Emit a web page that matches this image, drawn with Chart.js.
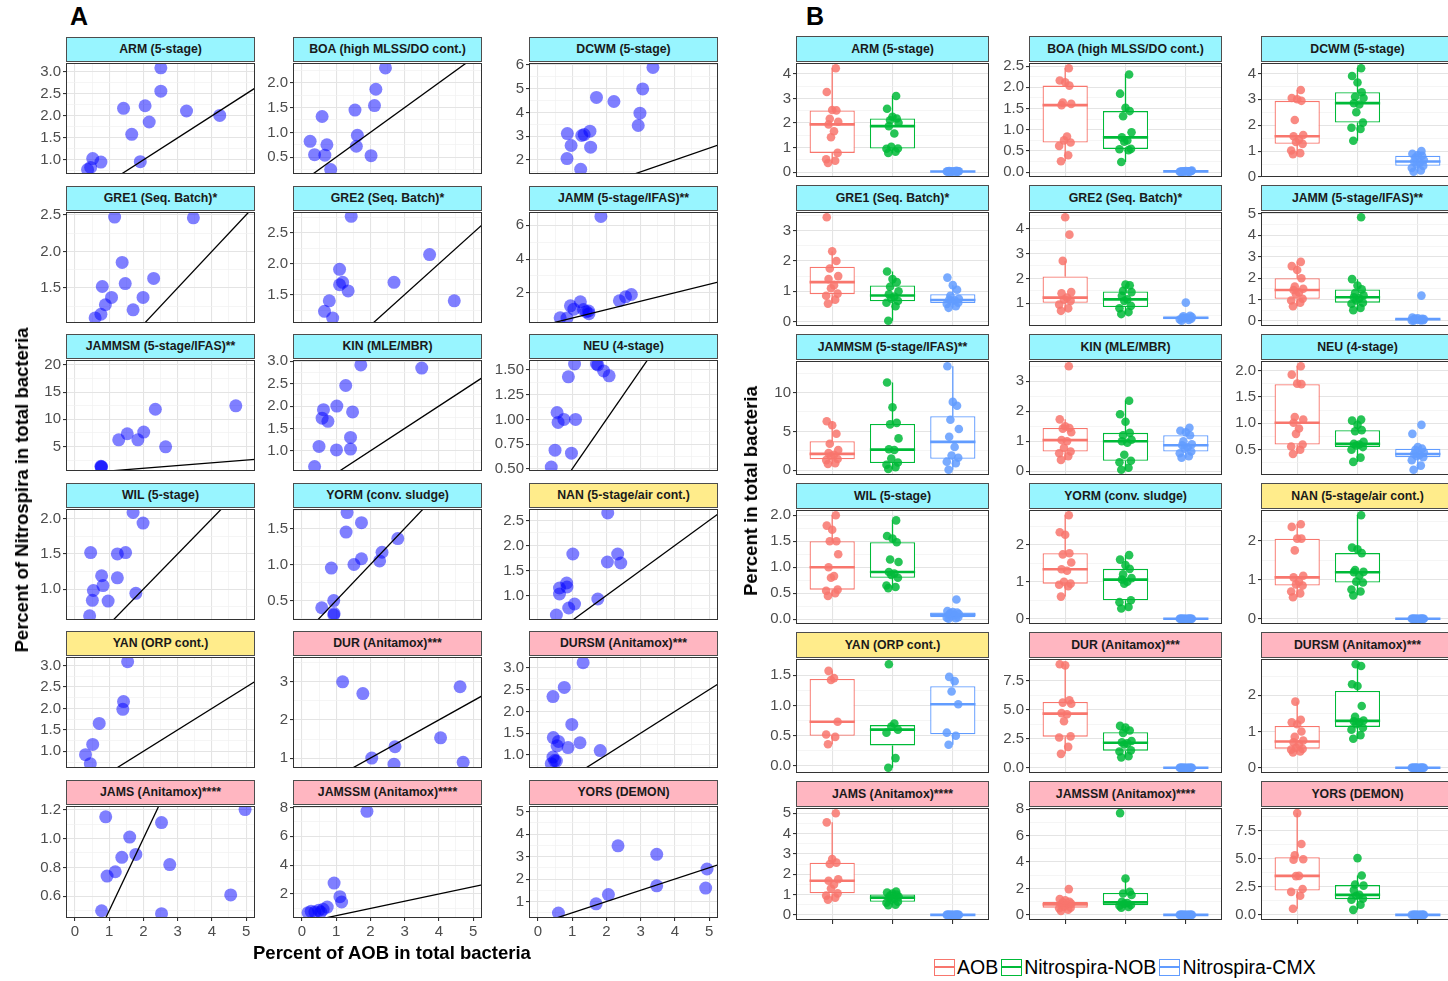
<!DOCTYPE html>
<html>
<head>
<meta charset="utf-8">
<script src="https://cdn.jsdelivr.net/npm/chart.js@4.4.0/dist/chart.umd.min.js"></script>
<style>
body { margin: 0; background: #fff; width: 1448px; height: 981px; overflow: hidden; position: relative;
       font-family: "Liberation Sans", Arial, Helvetica, sans-serif; }
canvas { position: absolute; }
.strip { position: absolute; box-sizing: border-box; border: 1px solid #4d4d4d; text-align: center;
         font-weight: bold; font-size: 12.3px; color: #1a1a1a; white-space: nowrap; overflow: hidden; }
.tag { position: absolute; font-weight: bold; font-size: 25px; color: #000; }
.title { position: absolute; font-weight: bold; font-size: 18.5px; color: #000; white-space: nowrap; }
.legend { position: absolute; left: 931px; top: 956px; display: flex; align-items: center; font-size: 19.5px; color: #000; }
.key { width: 21px; height: 17px; box-sizing: border-box; border: 1.5px solid; position: relative; margin: 0 2px 0 3px; }
.key i { position: absolute; left: 0; right: 0; top: 6px; border-top: 2px solid; }
</style>
</head>
<body>
<script>
// facet labels and wastewater process type (strip colour)
const sites = ['ARM (5-stage)', 'BOA (high MLSS/DO cont.)', 'DCWM (5-stage)',
  'GRE1 (Seq. Batch)*', 'GRE2 (Seq. Batch)*', 'JAMM (5-stage/IFAS)**',
  'JAMMSM (5-stage/IFAS)**', 'KIN (MLE/MBR)', 'NEU (4-stage)',
  'WIL (5-stage)', 'YORM (conv. sludge)', 'NAN (5-stage/air cont.)',
  'YAN (ORP cont.)', 'DUR (Anitamox)***', 'DURSM (Anitamox)***',
  'JAMS (Anitamox)****', 'JAMSSM (Anitamox)****', 'YORS (DEMON)'];
const processType = ['conv','conv','conv','conv','conv','conv','conv','conv','conv',
  'conv','conv','ctrl','ctrl','anammox','anammox','anammox','anammox','anammox'];

// panel A: percent AOB (x) vs percent Nitrospira (y)
const aobScatter = [
  [0.37,0.46,0.52,0.76,1.42,1.66,1.91,2.05,2.17,2.51,2.51,3.26,4.23],
  [0.24,0.37,0.59,0.73,0.67,0.84,1.55,1.62,1.59,2.02,2.12,2.16,2.44],
  [0.85,0.86,0.97,1.25,1.28,1.35,1.52,1.54,1.71,2.22,2.93,2.98,3.06,3.36],
  [0.59,0.76,0.89,0.80,1.07,1.16,1.38,1.47,1.70,1.99,2.30,3.46],
  [0.66,0.80,0.90,1.10,1.10,1.19,1.35,1.44,2.69,3.73,4.45],
  [0.65,0.85,0.95,1.05,1.24,1.33,1.41,1.48,1.49,1.84,2.38,2.56,2.73],
  [0.76,0.77,0.78,1.28,1.53,1.84,2.01,2.35,2.65,4.70],
  [0.37,0.50,0.63,0.59,0.76,1.01,1.02,1.28,1.42,1.42,1.48,1.72,3.50],
  [0.39,0.50,0.56,0.59,0.76,0.89,0.98,1.07,1.10,1.71,1.75,1.92,2.08],
  [0.43,0.51,0.54,0.46,0.78,0.82,0.97,1.24,1.24,1.48,1.70,1.78,1.99],
  [0.58,0.93,0.94,0.86,0.93,1.29,1.32,1.52,1.74,1.74,2.27,2.34,2.80],
  [0.54,0.63,0.63,0.84,0.85,0.90,1.02,1.07,1.75,2.03,2.04,2.33,2.42],
  [0.31,0.45,0.52,0.71,1.40,1.42,1.54],
  [1.19,1.78,2.04,2.69,2.72,4.05,4.62,4.71],
  [0.39,0.44,0.49,0.44,0.45,0.56,0.60,0.54,0.77,0.88,0.99,1.23,1.32,1.82],
  [0.78,0.90,0.94,1.18,1.37,1.60,1.78,2.53,2.53,2.77,4.55,4.97],
  [0.18,0.27,0.38,0.49,0.55,0.62,0.74,0.94,1.11,1.16,1.90],
  [0.60,1.70,2.06,2.34,3.47,3.47,4.94,4.90]
];
const nitScatter = [
  [0.78,0.83,1.03,0.95,2.17,1.58,0.96,2.23,1.86,3.09,2.56,2.11,2.01],
  [0.82,0.55,1.32,0.75,0.54,0.25,1.45,0.94,0.72,0.53,1.54,1.87,2.30],
  [2.06,3.11,2.61,1.61,3.03,3.07,3.21,2.54,4.63,4.46,3.45,3.97,4.99,5.89],
  [1.09,1.14,1.27,1.52,1.37,2.47,1.85,1.56,1.20,1.37,1.63,2.46],
  [1.23,1.40,1.12,1.91,1.66,1.70,1.56,2.77,1.70,2.15,1.40],
  [0.52,0.50,1.23,1.03,1.47,1.01,0.88,0.92,0.76,6.53,1.53,1.76,1.90],
  [1.36,1.23,1.30,6.23,7.35,6.23,7.65,11.85,4.94,12.47],
  [0.65,1.10,1.92,1.73,1.66,1.02,2.00,2.46,1.30,1.04,1.87,2.92,2.85],
  [0.52,0.69,1.07,0.97,1.00,1.43,0.66,1.56,1.00,1.56,1.55,1.49,1.44],
  [0.62,0.84,0.98,1.52,1.19,1.05,0.83,1.16,1.50,1.52,2.09,0.94,1.94],
  [0.40,0.30,0.32,0.95,0.50,1.45,1.72,1.00,1.08,1.58,1.05,1.17,1.36],
  [0.61,1.03,1.15,1.25,1.17,0.75,1.83,0.83,0.93,1.67,2.65,1.83,1.65],
  [0.92,0.71,1.16,1.65,1.98,2.16,3.09],
  [3.00,2.69,1.00,0.84,1.30,1.53,2.87,0.89],
  [0.80,0.95,0.87,2.34,1.40,1.21,1.31,0.86,2.55,1.17,1.70,1.28,3.12,1.10],
  [0.50,1.15,0.74,0.77,0.87,1.01,0.89,1.11,0.48,0.82,0.61,1.20],
  [0.71,0.80,0.75,0.87,0.75,0.94,1.10,2.76,1.82,1.45,7.73],
  [0.49,0.90,1.31,3.48,3.10,1.70,2.45,1.60]
];
const xRangeA = [-0.26, 5.26];
const yRangeA = [[0.68,3.2],[0.16,2.40],[1.41,6.08],[1.02,2.54],[1.04,2.84],[0.21,6.79],
  [0.5,20.9],[0.55,3.03],[0.48,1.60],[0.56,2.14],[0.23,1.77],[0.51,2.73],
  [0.61,3.2],[0.74,3.65],[0.70,3.25],[0.45,1.225],[0.34,8.1],[0.27,5.25]];
const yBreakA = [0.5,0.5,1,0.5,0.5,2,5,0.5,0.25,0.5,0.5,0.5,0.5,1,0.5,0.2,2,1];
const refSlope = 0.5; // reference line: Nitrospira = AOB / 2

// panel B: percent in total bacteria by group
const groups = ['AOB', 'Nitrospira-NOB', 'Nitrospira-CMX'];
const aobPct = [
  [0.37,0.46,0.52,0.78,1.42,1.66,1.94,2.05,2.17,2.51,2.53,3.26,4.23],
  [0.26,0.40,0.62,0.70,0.75,0.84,1.58,1.61,1.64,2.04,2.12,2.16,2.45],
  [0.88,0.92,1.02,1.28,1.35,1.45,1.57,1.62,2.2,2.94,3.0,3.05,3.36],
  [0.59,0.72,0.85,0.92,1.1,1.2,1.4,1.5,1.75,2.0,2.32,3.45],
  [0.7,0.8,0.95,1.1,1.15,1.23,1.4,1.45,2.7,3.75,4.45],
  [0.68,0.85,0.95,1.03,1.24,1.33,1.44,1.5,1.6,1.99,2.38,2.56,2.76],
  [0.8,0.9,1.3,1.45,1.8,2.0,2.2,2.6,3.4,4.7,5.8,6.3],
  [0.38,0.5,0.6,0.66,0.78,1.0,1.04,1.3,1.42,1.44,1.5,1.73,3.5],
  [0.42,0.5,0.56,0.6,0.8,0.9,1.01,1.07,1.12,1.74,1.75,1.92,2.08],
  [0.45,0.5,0.55,0.57,0.8,0.83,1.0,1.25,1.5,1.5,1.72,1.8,2.0],
  [0.6,0.88,0.92,0.95,1.0,1.3,1.34,1.52,1.74,1.77,2.27,2.34,2.8],
  [0.55,0.65,0.7,0.85,0.88,0.95,1.06,1.1,1.75,2.05,2.05,2.35,2.42],
  [0.36,0.48,0.52,0.73,1.42,1.45,1.57],
  [1.2,1.8,2.6,2.7,4.0,4.6,4.7,5.5,5.6,5.8,8.8,8.9],
  [0.42,0.45,0.5,0.52,0.55,0.65,0.7,0.75,0.85,1.0,1.2,1.25,1.32,1.82],
  [0.75,0.85,0.95,1.06,1.3,1.5,1.68,1.75,2.5,2.57,2.75,4.55,5.0],
  [0.3,0.4,0.5,0.55,0.6,0.75,0.8,0.85,0.95,1.0,1.1,1.2,1.95],
  [0.55,1.7,2.05,2.3,3.45,3.47,4.9,4.95,5.3,6.3,9.05]
];
const nobPct = [
  [0.78,0.83,0.95,0.96,1.03,1.57,1.87,2.01,2.11,2.18,2.25,2.58,3.10],
  [0.24,0.52,0.54,0.55,0.72,0.75,0.82,0.94,1.32,1.44,1.52,1.85,2.30],
  [1.4,1.85,1.9,2.1,2.5,2.8,2.85,3.05,3.1,3.27,3.65,3.9,4.2],
  [0.02,0.5,0.62,0.68,0.75,0.82,0.9,1.0,1.15,1.3,1.4,1.65],
  [0.57,0.65,0.8,0.9,1.1,1.16,1.3,1.45,1.5,1.72,1.75],
  [0.5,0.6,0.8,0.85,0.95,1.05,1.1,1.2,1.3,1.47,1.65,1.95,4.85],
  [0.15,0.4,0.7,1.0,1.5,2.6,2.7,4.1,5.9,6.1,8.1,11.3],
  [0.05,0.12,0.3,0.35,0.55,0.95,1.0,1.05,1.2,1.28,1.65,1.9,2.35],
  [0.27,0.35,0.5,0.55,0.58,0.6,0.61,0.65,0.85,0.87,0.97,1.05,1.07],
  [0.6,0.62,0.65,0.8,0.85,0.88,0.91,1.1,1.15,1.48,1.55,1.6,1.9],
  [0.28,0.32,0.45,0.5,0.95,1.0,1.06,1.1,1.2,1.35,1.45,1.6,1.72],
  [0.6,0.7,0.75,0.93,0.95,1.1,1.19,1.2,1.25,1.68,1.78,1.82,2.65],
  [-0.03,0.13,0.55,0.6,0.65,0.7,1.68],
  [0.9,1.0,1.4,1.5,2.0,2.1,2.2,2.3,3.0,3.2,3.45,3.6],
  [0.8,0.9,1.05,1.1,1.2,1.25,1.28,1.3,1.4,1.7,2.25,2.3,2.8,2.85],
  [0.48,0.5,0.6,0.65,0.75,0.8,0.85,0.9,0.95,1.0,1.05,1.1,1.15],
  [0.55,0.6,0.7,0.75,0.85,0.9,1.0,1.5,1.62,1.75,2.75,7.7],
  [0.45,0.9,1.35,1.45,1.7,1.78,2.2,2.6,2.7,3.5,5.05]
];
const cmxPct = [
  [0.01,0.02,0.02,0.03,0.01,0.02,0.04,0.03,0.02,0.01,0.03,0.02,0.05],
  [0.01,0.02,0.01,0.03,0.02,0.01,0.02,0.04,0.01,0.02,0.03,0.01,0.02],
  [0.2,0.25,0.35,0.43,0.48,0.55,0.6,0.65,0.75,0.82,0.85,0.9,1.0],
  [0.45,0.5,0.58,0.62,0.68,0.7,0.72,0.75,0.85,1.05,1.2,1.45],
  [0.3,0.33,0.35,0.38,0.4,0.42,0.42,0.45,0.48,0.5,1.03],
  [0.0,0.02,0.02,0.03,0.05,0.05,0.08,0.08,0.1,0.1,0.12,0.15,1.18],
  [0.05,0.9,1.1,1.6,1.9,3.0,4.3,5.3,6.5,8.3,8.8,13.4],
  [0.45,0.5,0.6,0.66,0.75,0.8,0.87,0.9,1.0,1.2,1.3,1.35,1.45],
  [0.12,0.2,0.3,0.36,0.38,0.4,0.42,0.45,0.5,0.52,0.55,0.8,0.97],
  [0.01,0.02,0.03,0.04,0.06,0.08,0.09,0.1,0.12,0.13,0.14,0.16,0.38],
  [0,0,0,0,0,0,0,0,0,0,0,0,0],
  [0,0,0,0,0,0,0,0,0,0,0,0,0],
  [0.35,0.5,0.55,1.02,1.23,1.4,1.47],
  [0,0,0,0,0,0,0,0,0,0,0,0],
  [0,0,0,0,0,0,0,0,0,0,0,0,0,0],
  [0,0,0,0,0,0,0,0,0,0,0,0,0],
  [0,0,0,0,0,0,0,0,0,0,0,0],
  [0,0,0,0,0,0,0,0,0,0,0]
];
const yBreakB = [1,0.5,1,1,1,1,5,1,0.5,0.5,1,1,0.5,2.5,1,1,2,2.5];

// ---- styling / layout ----
const FONT = '"Liberation Sans", Arial, Helvetica, sans-serif';
const stripFill = { conv: '#98F5FF', ctrl: '#FFEC8B', anammox: '#FFB6C1' };
const groupColors = ['#F8766D', '#00BA38', '#619CFF'];
const groupFill = ['rgba(248,118,109,0.85)', 'rgba(0,186,56,0.85)', 'rgba(97,156,255,0.85)'];
const jitter = [-0.07, 0.05, -0.1, 0.09, -0.02, 0.03, -0.06, 0.1, -0.04, 0.07, 0.0, -0.09, 0.06, -0.03, 0.02];
const A_COLS = [66, 293, 529], A_W = 189, A_TOPS = [37, 186, 334, 483, 631, 780], A_SH = 25, A_PH = 113;
const B_COLS = [796, 1029, 1261], B_W = 193, B_TOPS = [36, 185, 334, 483, 632, 781], B_SH = 26, B_PH = 116;
const PAD = 10, AXW = 46, TICK_FONT = 15;

Chart.defaults.font.family = FONT;

const isMajor = (v, step) => Math.abs(v / step - Math.round(v / step)) < 1e-6;
const decimals = step => (String(step).split('.')[1] || '').length;

function quantile(s, p) {
  const h = (s.length - 1) * p, i = Math.floor(h);
  return i + 1 < s.length ? s[i] + (h - i) * (s[i + 1] - s[i]) : s[i];
}
function boxStats(v) {
  const s = v.slice().sort((a, b) => a - b);
  const q1 = quantile(s, 0.25), med = quantile(s, 0.5), q3 = quantile(s, 0.75);
  const r = 1.5 * (q3 - q1);
  const inside = s.filter(x => x >= q1 - r && x <= q3 + r);
  return { lo: inside[0], q1, med, q3, hi: inside[inside.length - 1] };
}

function yAxis(min, max, step) {
  return {
    type: 'linear', min, max, beginAtZero: false,
    afterFit: s => { s.width = AXW; },
    border: { display: false },
    ticks: {
      stepSize: step / 2, includeBounds: false, autoSkip: false, color: '#4d4d4d', padding: 2,
      font: { size: TICK_FONT },
      callback: v => isMajor(v, step) ? v.toFixed(decimals(step)) : ''
    },
    grid: {
      color: c => c.tick && isMajor(c.tick.value, step) ? '#e4e4e4' : '#f0f0f0',
      lineWidth: c => c.tick && isMajor(c.tick.value, step) ? 1.1 : 0.7,
      tickLength: 3,
      tickColor: c => c.tick && isMajor(c.tick.value, step) ? '#333' : 'rgba(0,0,0,0)'
    }
  };
}

const panelBorder = {
  id: 'panelBorder',
  afterDatasetsDraw(chart) {
    const a = chart.chartArea, ctx = chart.ctx;
    ctx.save();
    ctx.strokeStyle = '#333';
    ctx.lineWidth = 1;
    ctx.strokeRect(a.left + 0.5, a.top + 0.5, a.right - a.left - 1, a.bottom - a.top - 1);
    ctx.restore();
  }
};

function addDiv(cls, text, css) {
  const d = document.createElement('div');
  d.className = cls;
  d.textContent = text;
  Object.assign(d.style, css);
  document.body.appendChild(d);
  return d;
}

function addStrip(i, left, top, w, h) {
  addDiv('strip', sites[i], {
    left: left + 'px', top: top + 'px', width: w + 'px', height: h + 'px',
    lineHeight: (h - 2) + 'px', background: stripFill[processType[i]]
  });
}

function makeCanvas(plotL, plotT, w, h, bottomH) {
  const c = document.createElement('canvas');
  c.width = AXW + w + PAD;
  c.height = PAD + h + (bottomH || PAD);
  c.style.left = (plotL - AXW) + 'px';
  c.style.top = (plotT - PAD) + 'px';
  document.body.appendChild(c);
  return c;
}

function baseOptions(bottomH) {
  return {
    responsive: false, animation: false, events: [],
    layout: { padding: { left: 0, top: PAD, right: PAD, bottom: bottomH ? 0 : PAD } },
    plugins: { legend: { display: false }, tooltip: { enabled: false } }
  };
}

// ---- panel A ----
sites.forEach((name, i) => {
  const col = i % 3, row = Math.floor(i / 3);
  const left = A_COLS[col], stripTop = A_TOPS[row], plotTop = stripTop + A_SH;
  const bottom = row === 5;
  addStrip(i, left, stripTop, A_W, A_SH);
  const bottomH = bottom ? 26 : 0;
  const canvas = makeCanvas(left, plotTop, A_W, A_PH, bottomH);
  const pts = aobScatter[i].map((x, k) => ({ x, y: nitScatter[i][k] }));
  const ref = xRangeA.map(x => ({ x, y: refSlope * x }));
  const opts = baseOptions(bottomH);
  opts.scales = {
    x: {
      type: 'linear', min: xRangeA[0], max: xRangeA[1], offset: false,
      afterFit: s => { s.height = bottomH; },
      border: { display: false },
      ticks: {
        display: bottom, stepSize: 0.5, includeBounds: false, autoSkip: false, color: '#4d4d4d', padding: 2,
        font: { size: TICK_FONT }, maxRotation: 0,
        callback: v => isMajor(v, 1) ? String(Math.round(v)) : ''
      },
      grid: {
        offset: false,
        color: c => c.tick && isMajor(c.tick.value, 1) ? '#e4e4e4' : '#f0f0f0',
        lineWidth: c => c.tick && isMajor(c.tick.value, 1) ? 1.1 : 0.7,
        drawTicks: bottom, tickLength: 3,
        tickColor: c => c.tick && isMajor(c.tick.value, 1) ? '#333' : 'rgba(0,0,0,0)'
      }
    },
    y: yAxis(yRangeA[i][0], yRangeA[i][1], yBreakA[i])
  };
  new Chart(canvas, {
    type: 'scatter',
    data: {
      datasets: [
        { type: 'line', data: ref, borderColor: '#000', borderWidth: 1.3, pointRadius: 0, order: 0 },
        { type: 'scatter', data: pts, backgroundColor: 'rgba(0,0,255,0.5)', borderWidth: 0,
          pointRadius: 6.5, order: 1 }
      ]
    },
    options: opts,
    plugins: [panelBorder]
  });
});

// ---- panel B ----
sites.forEach((name, i) => {
  const col = i % 3, row = Math.floor(i / 3);
  const left = B_COLS[col], stripTop = B_TOPS[row], plotTop = stripTop + B_SH;
  const bottom = row === 5;
  addStrip(i, left, stripTop, B_W, B_SH);
  const bottomH = bottom ? 8 : 0;
  const canvas = makeCanvas(left, plotTop, B_W, B_PH, bottomH);
  const series = [aobPct[i], nobPct[i], cmxPct[i]];
  const all = [].concat(...series);
  let lo = Math.min(...all), hi = Math.max(...all);
  const ex = (hi - lo) * 0.05;
  lo -= ex; hi += ex;
  const half = yBreakB[i] / 2;
  if (Math.abs((hi - lo) / half - Math.round((hi - lo) / half)) < 1e-3) hi += half * 0.01;

  const datasets = [];
  const stats = series.map(boxStats);
  series.forEach((vals, g) => {
    datasets.push({
      type: 'scatter', order: 0, backgroundColor: groupFill[g], borderWidth: 0, pointRadius: 4.3,
      data: vals.map((y, k) => ({ x: g + 1 + jitter[k % jitter.length], y }))
    });
    const s = stats[g];
    datasets.push({
      type: 'line', order: 1, borderColor: groupColors[g], borderWidth: 2.6, pointRadius: 0,
      data: [{ x: g + 1 - 0.375, y: s.med }, { x: g + 1 + 0.375, y: s.med }]
    });
    datasets.push({
      type: 'line', order: 3, borderColor: groupColors[g], borderWidth: 1.3, pointRadius: 0, spanGaps: false,
      data: [{ x: g + 1, y: s.hi }, { x: g + 1, y: s.q3 }, { x: g + 1, y: null },
             { x: g + 1, y: s.q1 }, { x: g + 1, y: s.lo }]
    });
  });
  datasets.push({
    type: 'bar', order: 2, backgroundColor: '#fff', borderColor: groupColors, borderWidth: 1.3,
    borderSkipped: false, barPercentage: 1, categoryPercentage: 0.75,
    data: stats.map((s, g) => ({ x: g + 1, y: [s.q1, s.q3] }))
  });

  const opts = baseOptions(bottomH);
  opts.scales = {
    x: {
      type: 'linear', min: 0.4, max: 3.6, offset: false,
      afterFit: s => { s.height = bottomH; },
      border: { display: false },
      ticks: { display: false, stepSize: 1, includeBounds: false, autoSkip: false },
      grid: { offset: false, color: '#e4e4e4', lineWidth: 1.1, drawTicks: bottom, tickLength: 4, tickColor: '#333' }
    },
    y: yAxis(lo, hi, yBreakB[i])
  };
  new Chart(canvas, { type: 'scatter', data: { datasets }, options: opts, plugins: [panelBorder] });
});

// ---- titles, tags, legend ----
addDiv('tag', 'A', { left: '70px', top: '2px' });
addDiv('tag', 'B', { left: '806px', top: '2px' });
addDiv('title', 'Percent of AOB in total bacteria', { left: '253px', top: '942px' });
addDiv('title', 'Percent of Nitrospira in total bacteria',
  { left: '22px', top: '490px', transform: 'translate(-50%,-50%) rotate(-90deg)' });
addDiv('title', 'Percent in total bacteria',
  { left: '751px', top: '491px', transform: 'translate(-50%,-50%) rotate(-90deg)' });

const legend = document.createElement('div');
legend.className = 'legend';
groups.forEach((g, k) => {
  const key = document.createElement('span');
  key.className = 'key';
  key.style.borderColor = groupColors[k];
  const mid = document.createElement('i');
  mid.style.borderColor = groupColors[k];
  key.appendChild(mid);
  const label = document.createElement('span');
  label.textContent = g;
  legend.appendChild(key);
  legend.appendChild(label);
});
document.body.appendChild(legend);
</script>
</body>
</html>
